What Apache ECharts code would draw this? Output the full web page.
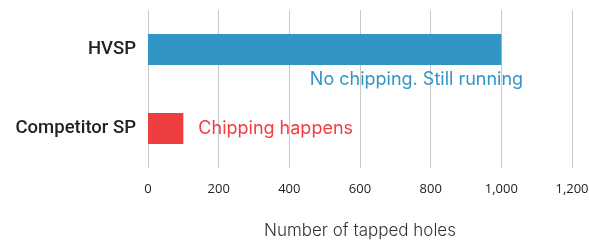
<!DOCTYPE html>
<html><head><meta charset="utf-8">
<script src="https://cdn.jsdelivr.net/npm/echarts@6/dist/echarts.min.js"></script>
<style>html,body{margin:0;padding:0;background:#fff}#c{width:589px;height:241px}</style>
</head><body><div id="c"></div>
<script>
const categories = ['HVSP', 'Competitor SP'];
const values = [1000, 100];
const barColors = ['#3196C6', '#EF3E42'];
const barNotes = ['No chipping. Still running', 'Chipping happens'];
const xTicks = [0, 200, 400, 600, 800, 1000, 1200];

const chart = echarts.init(document.getElementById('c'));
const data = values.map((v, i) => ({
  value: v,
  itemStyle: { color: barColors[i] },
  label: i === 0
    ? { show: true, position: ['45.8%', '118%'], color: barColors[i], formatter: barNotes[i], fontSize: 18, fontFamily: 'Inter', align: 'left', verticalAlign: 'top' }
    : { show: true, position: 'right', distance: 15, color: barColors[i], formatter: barNotes[i], fontSize: 18, fontFamily: 'Inter' }
}));
chart.setOption({
  animation: false,
  grid: { left: 148, right: 17, top: 10, bottom: 73, containLabel: false, outerBoundsMode: 'none' },
  xAxis: {
    type: 'value', min: xTicks[0], max: xTicks[xTicks.length - 1], interval: xTicks[1] - xTicks[0],
    axisLine: { show: false }, axisTick: { show: false },
    splitLine: { show: true, lineStyle: { color: '#C8C8C8', width: 1 } },
    axisLabel: { color: '#222', fontSize: 13, fontFamily: 'Open Sans', margin: 15,
      formatter: v => v.toLocaleString('en-US') },
    name: 'Number of tapped holes', nameLocation: 'middle', nameGap: 54,
    nameTextStyle: { color: '#333', fontSize: 17, fontFamily: 'Inter', fontWeight: 300 }
  },
  yAxis: {
    type: 'category', data: categories, inverse: true,
    axisLine: { show: false }, axisTick: { show: false },
    axisLabel: { color: '#222', fontSize: 18.5, fontFamily: 'Roboto', fontWeight: 500, margin: 12 }
  },
  series: [{ type: 'bar', data: data, barWidth: 31 }]
});
</script></body></html>
